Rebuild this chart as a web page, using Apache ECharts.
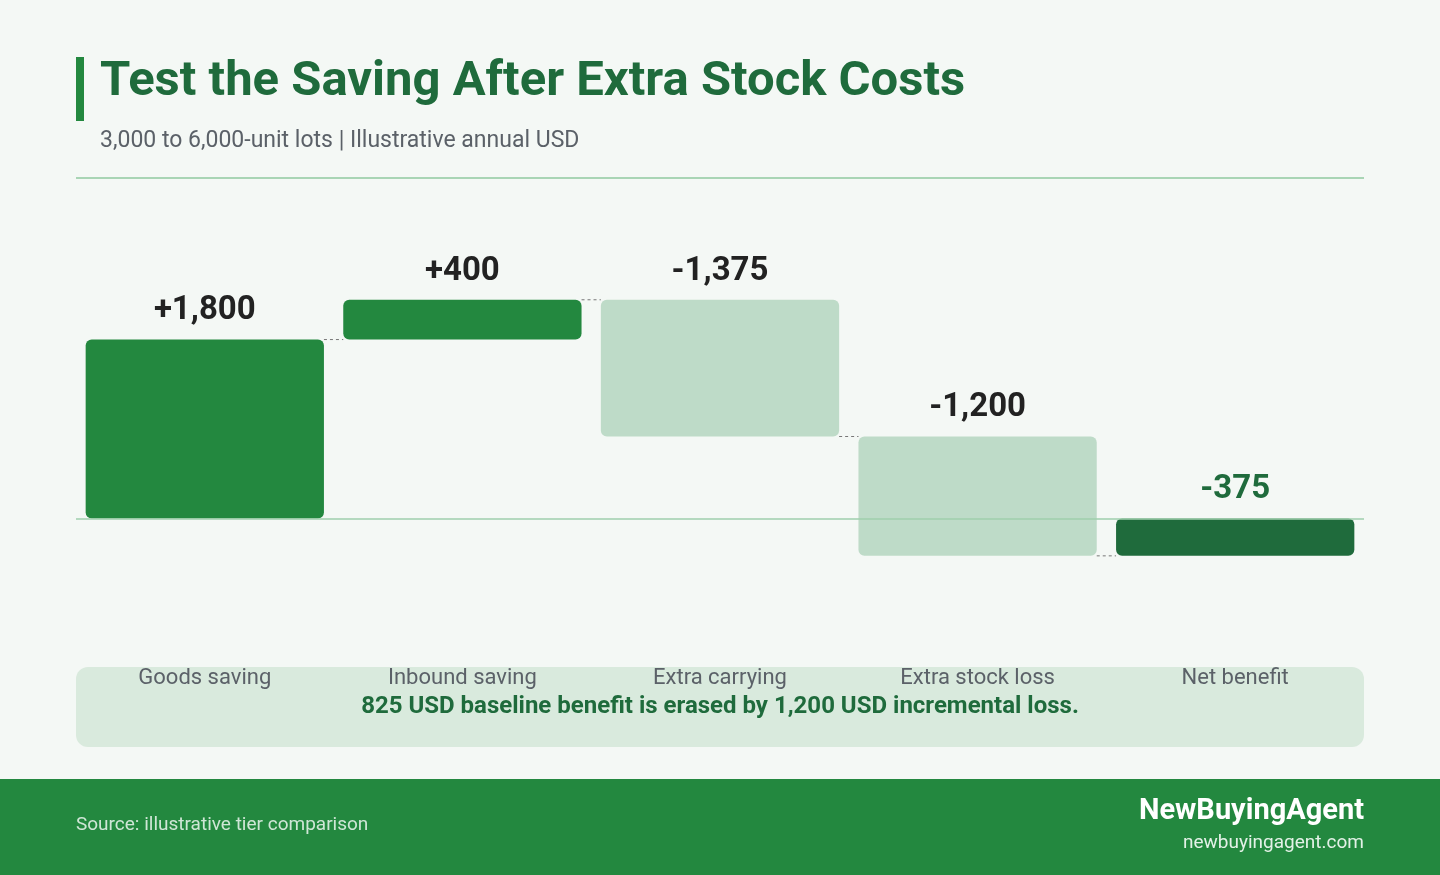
<!DOCTYPE html>
<html>
<head>
<meta charset="utf-8">
<script src="https://cdn.jsdelivr.net/npm/echarts@6/dist/echarts.min.js"></script>
<style>
html,body{margin:0;padding:0;background:#f4f8f5;}
#chart{width:1440px;height:875px;}
</style>
</head>
<body>
<div id="chart"></div>
<script>
var categories = ['Goods saving', 'Inbound saving', 'Extra carrying', 'Extra stock loss', 'Net benefit'];
var deltas = [1800, 400, -1375, -1200, null];
var labels = ['+1,800', '+400', '-1,375', '-1,200', '-375'];

// build start/end pairs from the running total
var ranges = [];
var total = 0;
for (var i = 0; i < deltas.length; i++) {
    if (deltas[i] === null) {
        ranges.push([0, total, 'net']);
    } else {
        ranges.push([total, total + deltas[i], deltas[i] > 0 ? 'up' : 'down']);
        total += deltas[i];
    }
}
var colors = { up: '#23883f', down: '#bedbc8', net: '#1f6b3c' };

var myChart = echarts.init(document.getElementById('chart'));

var option = {
    backgroundColor: '#f4f8f5',
    animation: false,
    graphic: [
        { type: 'rect', shape: { x: 76, y: 57, width: 8, height: 64 }, style: { fill: '#23883f' } },
        { type: 'text', left: 100, top: 58, style: { text: 'Test the Saving After Extra Stock Costs', font: 'bold 49px Roboto, "Liberation Sans", sans-serif', fill: '#1f6b3c' } },
        { type: 'text', left: 100, top: 130, style: { text: '3,000 to 6,000-unit lots | Illustrative annual USD', font: '23px Roboto, "Liberation Sans", sans-serif', fill: '#5b6168' } },
        { type: 'rect', shape: { x: 76, y: 177, width: 1288, height: 2 }, style: { fill: '#a9d5b5' } },
        { type: 'rect', shape: { x: 76, y: 667, width: 1288, height: 80, r: 12 }, style: { fill: '#d9eadd' } },
        { type: 'text', x: 720, y: 707, style: { text: '825 USD baseline benefit is erased by 1,200 USD incremental loss.', font: 'bold 24px Roboto, "Liberation Sans", sans-serif', fill: '#1f6b3c', align: 'center', verticalAlign: 'middle' } },
        { type: 'rect', shape: { x: 0, y: 779, width: 1440, height: 96 }, style: { fill: '#23883f' } },
        { type: 'text', left: 76, top: 816, style: { text: 'Source: illustrative tier comparison', font: '19px Roboto, "Liberation Sans", sans-serif', fill: '#cfe6d6' } },
        { type: 'text', right: 76, top: 797, style: { text: 'NewBuyingAgent', font: 'bold 29px Roboto, "Liberation Sans", sans-serif', fill: '#ffffff' } },
        { type: 'text', right: 76, top: 834, style: { text: 'newbuyingagent.com', font: '19px Roboto, "Liberation Sans", sans-serif', fill: '#e3f1e7' } }
    ],
    grid: { left: 76, right: 76, top: 260, height: 358 },
    xAxis: {
        type: 'category',
        data: categories,
        axisLine: { show: false },
        axisTick: { show: false },
        axisLabel: { color: '#5b6168', fontSize: 22, fontFamily: 'Roboto, sans-serif', margin: 49, interval: 0 }
    },
    yAxis: {
        type: 'value',
        min: -1000,
        max: 2600,
        show: false
    },
    series: [{
        type: 'custom',
        data: ranges.map(function (r, i) { return [i, r[0], r[1]]; }),
        encode: { x: 0, y: [1, 2] },
        renderItem: function (params, api) {
            var i = api.value(0);
            var r = ranges[i];
            var p0 = api.coord([i, r[0]]);
            var p1 = api.coord([i, r[1]]);
            var bw = api.size([1, 0])[0] * 0.925;
            var x = p0[0] - bw / 2;
            var top = Math.min(p0[1], p1[1]);
            var h = Math.abs(p1[1] - p0[1]);
            var hi = api.coord([i, Math.max(r[0], r[1])]);
            var children = [{
                type: 'rect',
                shape: { x: x, y: top, width: bw, height: h, r: 6 },
                style: { fill: colors[r[2]] }
            }, {
                type: 'text',
                style: {
                    text: labels[i], x: p0[0], y: hi[1] - 12,
                    align: 'center', verticalAlign: 'bottom',
                    font: 'bold 33px Roboto, "Liberation Sans", sans-serif',
                    fill: r[2] === 'net' ? '#1f6b3c' : '#222222'
                }
            }];
            if (i < ranges.length - 1) {
                var e = api.coord([i, r[1]]);
                var nextX = api.coord([i + 1, 0])[0] - bw / 2;
                children.push({
                    type: 'line',
                    shape: { x1: x + bw, y1: e[1], x2: nextX, y2: e[1] },
                    style: { stroke: '#777', lineWidth: 1, lineDash: [3, 3] }
                });
            }
            return { type: 'group', children: children };
        },
        markLine: {
            silent: true,
            symbol: 'none',
            label: { show: false },
            lineStyle: { color: '#9fcfac', type: 'solid', width: 1.5 },
            data: [{ yAxis: 0 }]
        },
        z: 2
    }]
};
myChart.setOption(option);
</script>
</body>
</html>
